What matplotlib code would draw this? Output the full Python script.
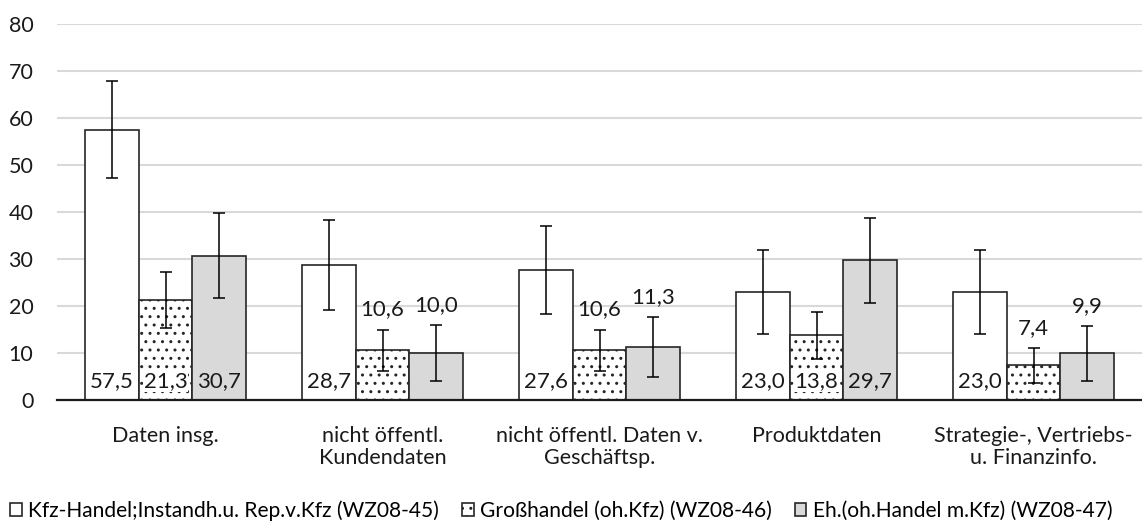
import matplotlib.pyplot as plt
import numpy as np

plt.rcParams['font.family'] = ['Lato', 'DejaVu Sans']
plt.rcParams['hatch.linewidth'] = 1.0

categories = ['Daten insg.', 'nicht öffentl.\nKundendaten', 'nicht öffentl. Daten v.\nGeschäftsp.',
              'Produktdaten', 'Strategie-, Vertriebs-\nu. Finanzinfo.']
series = ['Kfz-Handel;Instandh.u. Rep.v.Kfz (WZ08-45)', 'Großhandel (oh.Kfz) (WZ08-46)',
          'Eh.(oh.Handel m.Kfz) (WZ08-47)']
kfz = [57.5, 28.7, 27.6, 23.0, 23.0]
gross = [21.3, 10.6, 10.6, 13.8, 7.4]
eh = [30.7, 10.0, 11.3, 29.7, 9.9]
kfz_err = [10.3, 9.6, 9.4, 8.9, 8.9]
gross_err = [5.9, 4.4, 4.4, 5.0, 3.7]
eh_err = [9.0, 5.9, 6.3, 9.0, 5.8]

fig = plt.figure(figsize=(11.42, 5.31), dpi=100)
ax = fig.add_axes([57/1142, 131/531, 1085/1142, 376/531])

x = np.arange(len(categories))
w = 0.248
styles = [dict(color='white', hatch=None), dict(color='white', hatch='..'), dict(color='#d9d9d9', hatch=None)]
for i, (vals, errs) in enumerate([(kfz, kfz_err), (gross, gross_err), (eh, eh_err)]):
    pos = x + (i - 1) * w
    ax.bar(pos, vals, w, color=styles[i]['color'], hatch=styles[i]['hatch'], edgecolor='#262626',
           linewidth=1.2, label=series[i], zorder=2)
    ax.errorbar(pos, vals, yerr=errs, fmt='none', ecolor='black', elinewidth=1.1, capsize=4.2,
                capthick=1.1, zorder=3)
    for p, v, e in zip(pos, vals, errs):
        txt = f'{v:.1f}'.replace('.', ',')
        if v > 12:
            ax.text(p, 4, txt, ha='center', va='center', fontsize=16, color='#1a1a1a', zorder=4,
                    bbox=dict(facecolor=styles[i]['color'], edgecolor='none', pad=0.3) if i == 1 else None)
        else:
            ax.text(p, v + e + 4.3, txt, ha='center', va='center', fontsize=16, color='#1a1a1a',
                    zorder=4)

ax.set_xlim(-0.5, len(categories) - 0.5)
ax.set_ylim(0, 80)
ax.set_yticks(range(0, 81, 10))
ax.set_xticks(x)
ax.set_xticklabels(categories, fontsize=15.5, color='#1a1a1a', linespacing=1.1)
ax.tick_params(axis='y', length=0, labelsize=15.5, pad=17, labelcolor='#1a1a1a')
ax.tick_params(axis='x', length=0, pad=19)
ax.grid(axis='y', color='#d9d9d9', linewidth=1.5, zorder=0)
ax.set_axisbelow(True)
for s in ['top', 'right', 'left']:
    ax.spines[s].set_visible(False)
ax.spines['bottom'].set_linewidth(1.6)
ax.spines['bottom'].set_color('#1a1a1a')
ax.spines['bottom'].set_zorder(5)

fig.legend(loc='lower left', bbox_to_anchor=(-0.002, -0.005), ncol=3, frameon=False, fontsize=15.1,
           handlelength=0.55, handleheight=0.55, handletextpad=0.3, columnspacing=1.1,
           borderaxespad=0.2)

fig.savefig('out.png', dpi=100)
